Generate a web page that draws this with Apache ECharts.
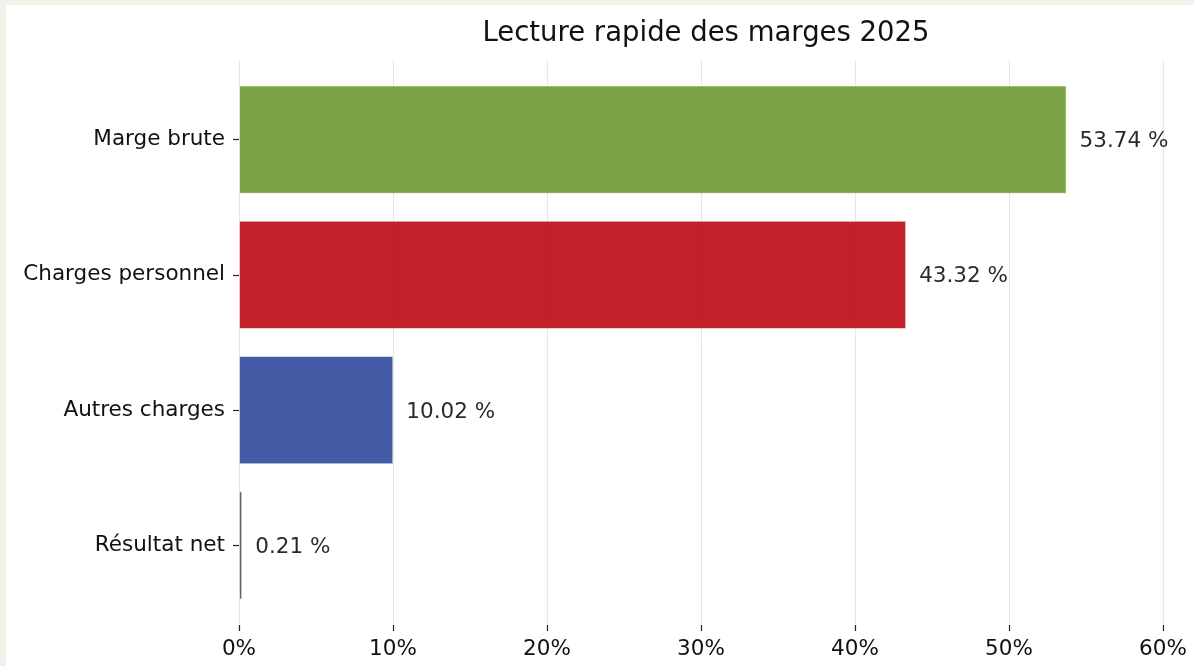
<!DOCTYPE html>
<html>
<head>
<meta charset="utf-8">
<script src="https://cdn.jsdelivr.net/npm/echarts@6/dist/echarts.min.js"></script>
<style>
  html, body { margin: 0; padding: 0; background: #f4f1ea; }
  #chart { position: absolute; left: 6px; top: 5px; width: 1188px; height: 661px; background: #ffffff; }
</style>
</head>
<body>
<div id="chart"></div>
<script>
// données
const categories = ["Marge brute", "Charges personnel", "Autres charges", "Résultat net"];
const values = [53.74, 43.32, 10.02, 0.21];
const barColors = ["#6c9a31", "#bd0912", "#30499c", "#555555"];
const xTicks = [0, 10, 20, 30, 40, 50, 60];

const font = "'DejaVu Sans', sans-serif";
const myChart = echarts.init(document.getElementById("chart"));

const option = {
  animation: false,
  textStyle: { fontFamily: font },
  title: {
    text: "Lecture rapide des marges 2025",
    left: 695,
    top: 10,
    textAlign: "center",
    textStyle: { fontFamily: font, fontSize: 27.5, fontWeight: "normal", color: "#111" },
  },
  grid: [
    // grille des axes (lignes verticales + graduations)
    { left: 233, right: 31, top: 55, height: 565 },
    // grille des barres
    { left: 233, right: 31, top: 67, height: 541 },
  ],
  xAxis: [
    {
      gridIndex: 0,
      type: "value",
      min: xTicks[0],
      max: xTicks[xTicks.length - 1],
      interval: 10,
      axisLine: { show: false },
      axisTick: { show: true, length: 6, lineStyle: { color: "#222", width: 1.2 } },
      axisLabel: {
        margin: 13,
        fontSize: 21.5,
        color: "#111",
        fontFamily: font,
        formatter: (v) => v + "%",
      },
      splitLine: { show: true, lineStyle: { color: "#e6e6e6", width: 1 } },
    },
    {
      gridIndex: 1,
      type: "value",
      min: xTicks[0],
      max: xTicks[xTicks.length - 1],
      show: false,
    },
  ],
  yAxis: [
    { gridIndex: 0, type: "value", show: false, min: 0, max: 1 },
    {
      gridIndex: 1,
      type: "category",
      inverse: true,
      data: categories,
      axisLine: { show: false },
      axisTick: { show: true, alignWithLabel: true, length: 6, lineStyle: { color: "#222", width: 1.2 } },
      axisLabel: { margin: 14, fontSize: 21.5, color: "#111", fontFamily: font, padding: [4, 0, 0, 0] },
      splitLine: { show: false },
    },
  ],
  series: [
    {
      type: "bar",
      xAxisIndex: 1,
      yAxisIndex: 1,
      barWidth: "80%",
      data: values.map((v, i) => ({
        value: v,
        itemStyle: { color: barColors[i] },
      })),
      itemStyle: { opacity: 0.9, borderColor: "rgba(255,255,255,0.6)", borderWidth: 1 },
      label: {
        show: true,
        position: "right",
        distance: 13,
        offset: [0, 2],
        fontSize: 21.5,
        color: "#111",
        fontFamily: font,
        formatter: (p) => p.value.toFixed(2) + " %",
      },
    },
  ],
};
myChart.setOption(option);
</script>
</body>
</html>
